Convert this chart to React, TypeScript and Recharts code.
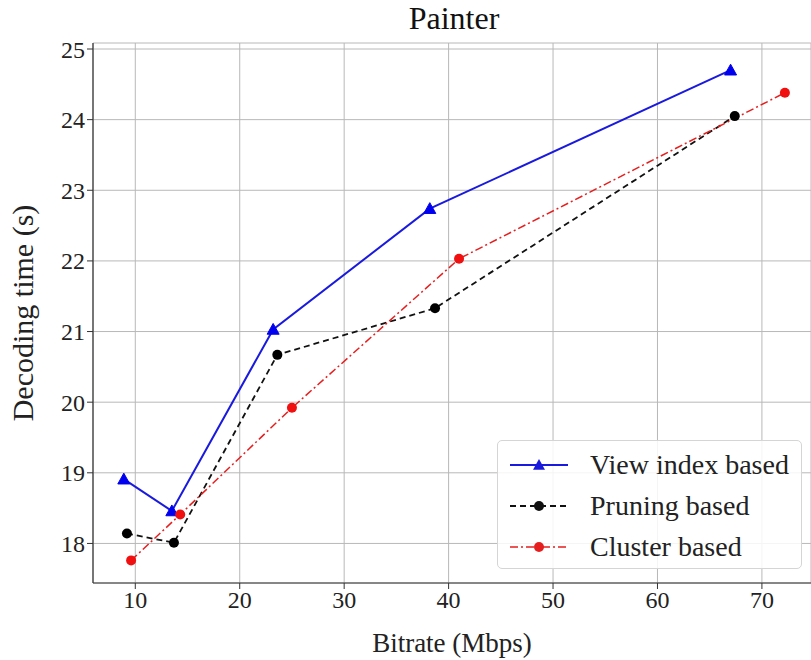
import React from 'react'
import { LineChart, Line, XAxis, YAxis, CartesianGrid } from 'recharts'

// Values
const viewBitrate = [8.9, 13.5, 23.2, 38.2, 67.0]
const viewTime = [18.91, 18.46, 21.03, 22.74, 24.7]
const pruneBitrate = [9.2, 13.7, 23.6, 38.7, 67.4]
const pruneTime = [18.14, 18.01, 20.67, 21.33, 24.05]
const clusterBitrate = [9.6, 14.3, 25.0, 41.0, 72.2]
const clusterTime = [17.76, 18.41, 19.92, 22.03, 24.38]

const xTicks = [10, 20, 30, 40, 50, 60, 70]
const yTicks = [18, 19, 20, 21, 22, 23, 24, 25]

const seriesNames = ['View index based', 'Pruning based', 'Cluster based']

const toPoints = (xs: number[], ys: number[]) => xs.map((x, i) => ({ x, y: ys[i] }))

const viewData = toPoints(viewBitrate, viewTime)
const pruneData = toPoints(pruneBitrate, pruneTime)
const clusterData = toPoints(clusterBitrate, clusterTime)

const FONT = '"Liberation Serif", "DejaVu Serif", serif'

const TriangleDot = (props: any) => {
  const { cx, cy } = props
  if (cx == null || cy == null) return null
  const s = 6
  return (
    <polygon
      points={`${cx},${cy - s} ${cx - s},${cy + s * 0.8} ${cx + s},${cy + s * 0.8}`}
      fill="#0000ee"
      stroke="#0000ee"
    />
  )
}

const legendItems = [
  { name: seriesNames[0], color: '#1a1adf', dash: undefined, width: 2, marker: 'tri' },
  { name: seriesNames[1], color: '#111', dash: '6 4', width: 1.8, marker: 'circle' },
  { name: seriesNames[2], color: '#e61e1e', dash: '8 3 2 3', width: 1.5, marker: 'circle' },
]

const LegendBox = () => (
  <div
    style={{
      position: 'absolute',
      left: 497,
      top: 440,
      width: 305,
      height: 129,
      boxSizing: 'border-box',
      background: 'rgba(255,255,255,0.85)',
      border: '1px solid #d5d5d5',
      borderRadius: 5,
      padding: '3px 0 0 10px',
      fontFamily: FONT,
      fontSize: 28,
      color: '#222',
    }}
  >
    {legendItems.map((it) => (
      <div key={it.name} style={{ display: 'flex', alignItems: 'center', height: 41, whiteSpace: 'nowrap' }}>
        <svg width={64} height={20} style={{ marginRight: 18, flex: 'none' }}>
          <line x1={2} y1={10} x2={60} y2={10} stroke={it.color} strokeWidth={it.width} strokeDasharray={it.dash} />
          {it.marker === 'tri' ? (
            <polygon points="31,4 25,14.8 37,14.8" fill={it.color} />
          ) : (
            <circle cx={31} cy={10} r={5} fill={it.color} />
          )}
        </svg>
        <span>{it.name}</span>
      </div>
    ))}
  </div>
)

export default function App() {
  const tickStyle = { fontSize: 24, fontFamily: FONT, fill: '#222' }
  return (
    <div style={{ position: 'absolute', left: 0, top: 0, width: 811, height: 660, background: '#fff', overflow: 'hidden' }}>
      <div
        style={{
          position: 'absolute',
          left: 93,
          width: 722,
          top: 0,
          textAlign: 'center',
          fontFamily: FONT,
          fontSize: 32,
          color: '#111',
        }}
      >
        Painter
      </div>
      <LineChart width={811} height={660} margin={{ top: 43, right: 0, left: 0, bottom: 0 }}>
        <CartesianGrid stroke="#b8b8b8" strokeWidth={1} />
        <XAxis
          xAxisId="top"
          orientation="top"
          type="number"
          dataKey="x"
          domain={[5.95, 74.7]}
          height={0}
          tick={false}
          tickLine={false}
          axisLine={{ stroke: '#333', strokeWidth: 1.2 }}
        />
        <XAxis
          type="number"
          dataKey="x"
          domain={[5.95, 74.7]}
          ticks={xTicks}
          height={77}
          tick={tickStyle}
          tickSize={6}
          tickLine={{ stroke: '#333' }}
          axisLine={{ stroke: '#333', strokeWidth: 1.2 }}
          label={{ value: 'Bitrate (Mbps)', position: 'insideBottom', offset: 8, style: { fontSize: 27, fontFamily: FONT, fill: '#222' } }}
        />
        <YAxis
          type="number"
          domain={[17.44, 25.085]}
          ticks={yTicks}
          width={93}
          tick={tickStyle}
          tickSize={6}
          tickLine={{ stroke: '#333' }}
          axisLine={{ stroke: '#333', strokeWidth: 1.2 }}
          allowDataOverflow
          label={{
            value: 'Decoding time (s)',
            angle: -90,
            position: 'insideLeft',
            offset: 22,
            style: { fontSize: 30, fontFamily: FONT, fill: '#222', textAnchor: 'middle' },
          }}
        />
        <Line
          data={viewData}
          dataKey="y"
          name={seriesNames[0]}
          stroke="#1a1adf"
          strokeWidth={2}
          dot={<TriangleDot />}
          activeDot={false}
          isAnimationActive={false}
        />
        <Line
          data={pruneData}
          dataKey="y"
          name={seriesNames[1]}
          stroke="#111"
          strokeWidth={1.8}
          strokeDasharray="6 4"
          dot={{ r: 5, fill: '#000', stroke: '#000', strokeWidth: 0, strokeDasharray: '' }}
          activeDot={false}
          isAnimationActive={false}
        />
        <Line
          data={clusterData}
          dataKey="y"
          name={seriesNames[2]}
          stroke="#e61e1e"
          strokeWidth={1.5}
          strokeDasharray="8 3 2 3"
          dot={{ r: 5, fill: '#f01010', stroke: '#f01010', strokeWidth: 0, strokeDasharray: '' }}
          activeDot={false}
          isAnimationActive={false}
        />
      </LineChart>
      <LegendBox />
    </div>
  )
}
